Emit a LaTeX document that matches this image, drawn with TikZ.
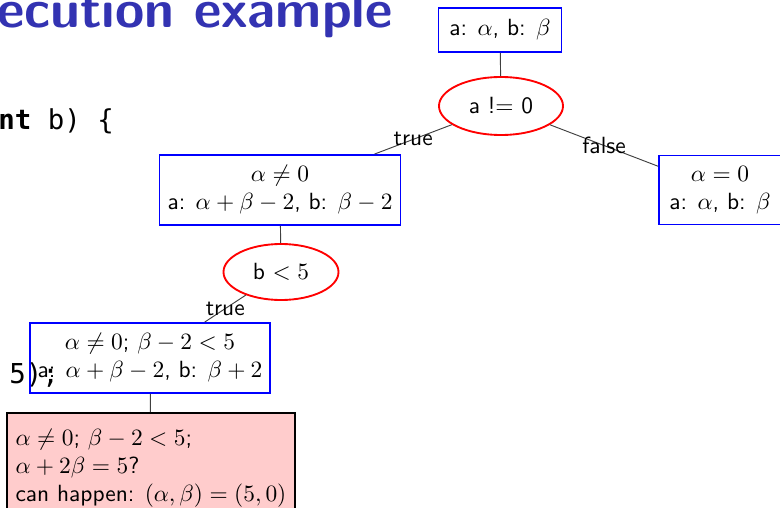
\documentclass[tikz,border=0pt]{standalone}
\usepackage{amsmath}
\usepackage{fontspec}
\usepackage{tikz}
\usetikzlibrary{shapes.geometric}
\newfontfamily\codefont{DejaVu Sans Mono}
\definecolor{titleblue}{rgb}{0.2,0.2,0.7}
\definecolor{failpink}{RGB}{255,204,204}

\begin{document}
\begin{tikzpicture}[x=0.015cm,y=-0.015cm,font=\sffamily,
  state/.style n args={2}{draw=blue,thick,rectangle,align=center,inner sep=0pt,minimum width=#1,minimum height=#2},
  cond/.style n args={2}{draw=red,thick,ellipse,inner sep=0pt,minimum width=#1,minimum height=#2},
  lbl/.style={midway,inner sep=0pt,text=black},
  code/.style={anchor=base west,inner sep=0pt,font=\fontsize{11.7}{14}\codefont}]
\useasboundingbox (0,0) rectangle (780,508);
\clip (0,0) rectangle (780,508);
% slide behind the tree
\node[anchor=base west,inner sep=0pt,text=titleblue,font=\fontsize{22.7}{27}\sffamily\bfseries] (title) at (-3,28) {ecution example};
\node[code] (sig) at (-2,130) {\textbf{nt} b) \{};
\node[code] (ret) at (9,383) {5);};
% the tree
\node[state={1.845cm}{0.66cm}] (init) at (500,30) {a: $\alpha$, b: $\beta$};
\node[cond={1.86cm}{0.87cm}] (testa) at (501,106) {a != 0};
\node[state={3.615cm}{1.05cm}] (nonzero) at (280,190) {$\alpha \neq 0$\\a: $\alpha+\beta-2$, b: $\beta-2$};
\node[state={1.83cm}{1.035cm}] (zero) at (720,190) {$\alpha = 0$\\a: $\alpha$, b: $\beta$};
\node[cond={1.725cm}{0.84cm}] (testb) at (281,272) {b $<5$};
\node[state={3.6cm}{1.05cm}] (small) at (150,358) {$\alpha \neq 0$; $\beta-2 < 5$\\a: $\alpha+\beta-2$, b: $\beta+2$};
\node[draw,thick,fill=failpink,anchor=north west,align=left,minimum width=4.32cm,inner xsep=0.12cm,inner ysep=0.24cm] (fail) at (6,412)
  {$\alpha \neq 0$; $\beta-2 < 5$;\\$\alpha+2\beta = 5$?\\can happen: $(\alpha,\beta) = (5,0)$};
\draw[black!75] (init) -- (testa);
\draw[black!75] (testa) -- node[lbl]{true} (nonzero);
\draw[black!75] (testa) -- node[lbl]{false} (zero);
\draw[black!75] (nonzero) -- (testb);
\draw[black!75] (testb) -- node[lbl]{true} (small);
\draw[black!75] (small) -- (fail);
\end{tikzpicture}
\end{document}
